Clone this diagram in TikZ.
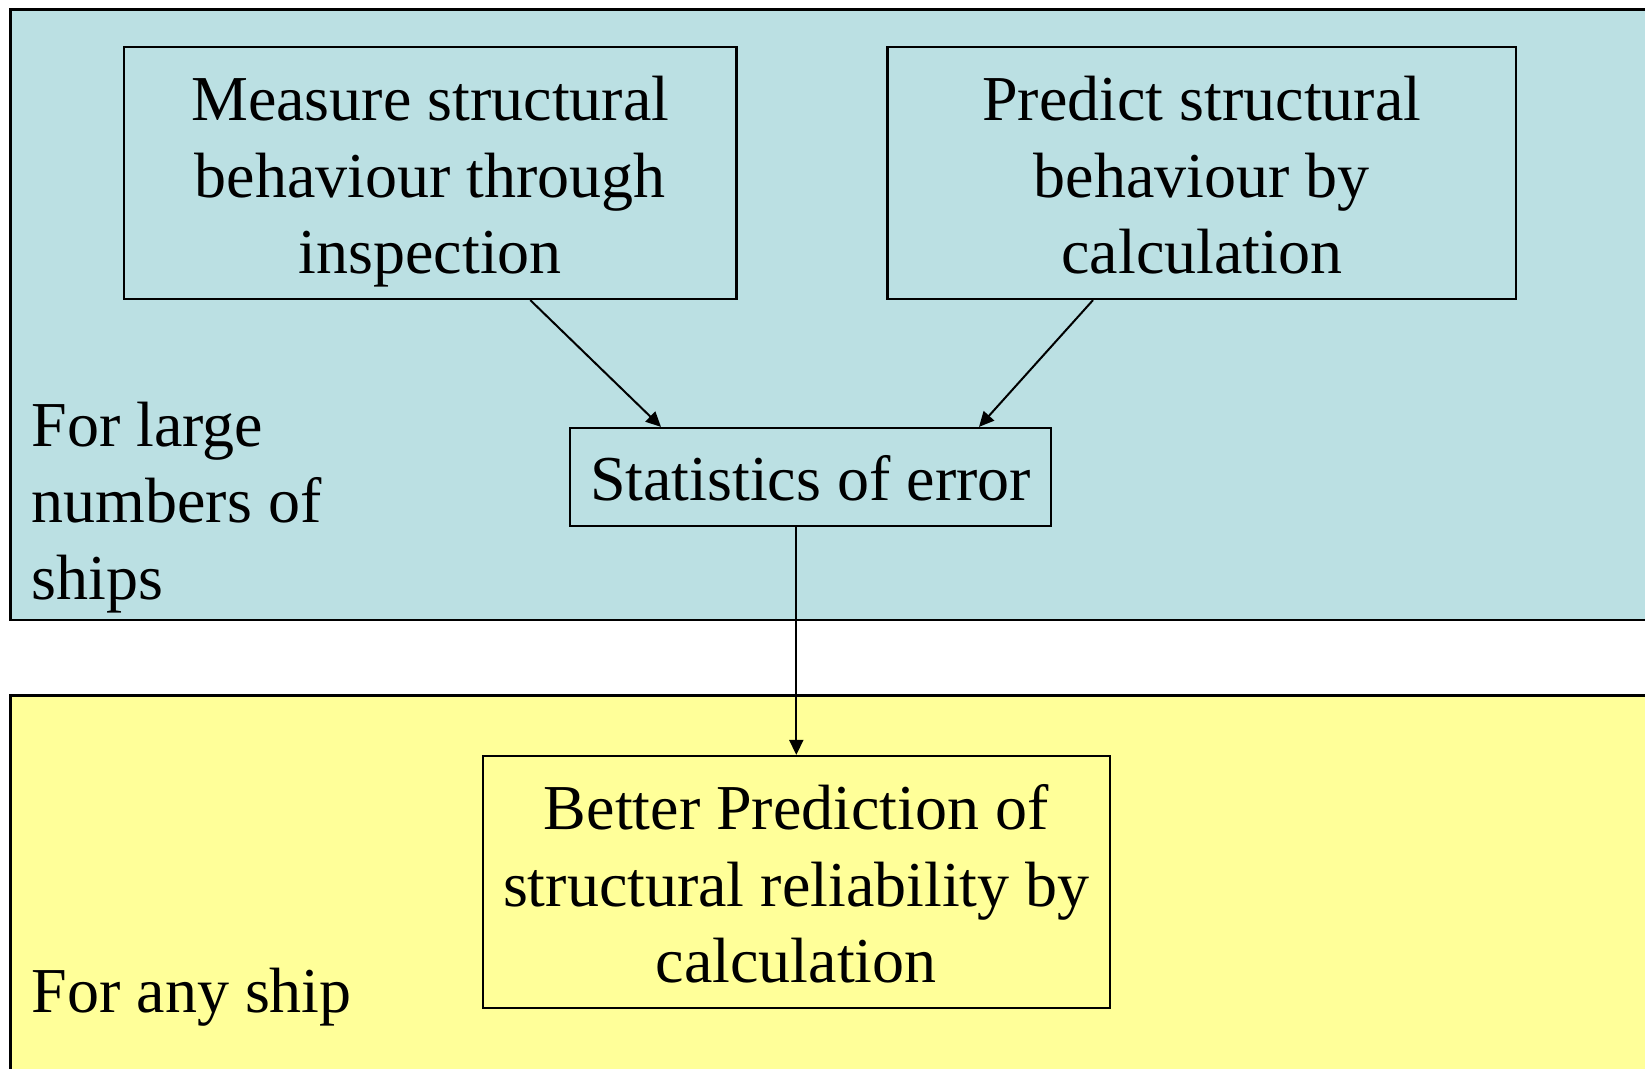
\documentclass[tikz,border=0pt]{standalone}
\usepackage{fontspec}
\setmainfont{Liberation Serif}
\usetikzlibrary{arrows.meta}
\definecolor{panelblue}{RGB}{187,224,227}
\definecolor{panelyellow}{RGB}{255,255,153}
\newcommand{\topstrut}{\rule{0pt}{63pt}}
\newcommand{\botstrut}{\rule[-15pt]{0pt}{15pt}}
\tikzset{
  panel/.style={draw=black, line width=2.2pt},
  stepbox/.style={draw=black, line width=2.2pt, inner sep=0pt, align=center,
    font=\fontsize{64}{76.6}\selectfont},
  sidelabel/.style={inner sep=0pt, align=left, font=\fontsize{64}{76.6}\selectfont},
  arr/.style={line width=2pt, -{Triangle[length=15pt,width=14pt]}}
}
\begin{document}
\begin{tikzpicture}[x=1pt,y=-1pt]
\useasboundingbox (0,0) rectangle (1645,1068);
\begin{scope}
\clip (0,0) rectangle (1645,1068);
\filldraw[panel, fill=panelblue] (10.5,9.5) rectangle (1680,620);
\filldraw[panel, fill=panelyellow] (10.5,695.5) rectangle (1680,1100);
\end{scope}

\node[stepbox, minimum width=612.5pt, minimum height=252pt] (A) at (430.25,173)
  {\topstrut Measure structural\\behaviour through\\inspection\botstrut};
\node[stepbox, minimum width=628.5pt, minimum height=252pt] (B) at (1201.75,173)
  {\topstrut Predict structural\\behaviour by\\calculation\botstrut};
\node[stepbox, minimum width=481pt, minimum height=97.6pt] (C) at (810.5,476.8)
  {\topstrut Statistics of error\botstrut};
\node[stepbox, minimum width=627.4pt, minimum height=252pt] (D) at (796.3,882)
  {\topstrut Better Prediction of\\structural reliability by\\calculation\botstrut};

\node[sidelabel, anchor=north west] (L1) at (31.5,383)
  {\topstrut For large\\numbers of\\ships};
\node[sidelabel, anchor=base west] (L2) at (31.5,1012.5) {For any ship};

\draw[arr] ([xshift=100pt]A.south) -- ([xshift=-149.5pt]C.north);
\draw[arr] ([xshift=-108.75pt]B.south) -- ([xshift=168.5pt]C.north);
\draw[arr] (C.south -| D.north) -- (D.north);
\end{tikzpicture}
\end{document}
